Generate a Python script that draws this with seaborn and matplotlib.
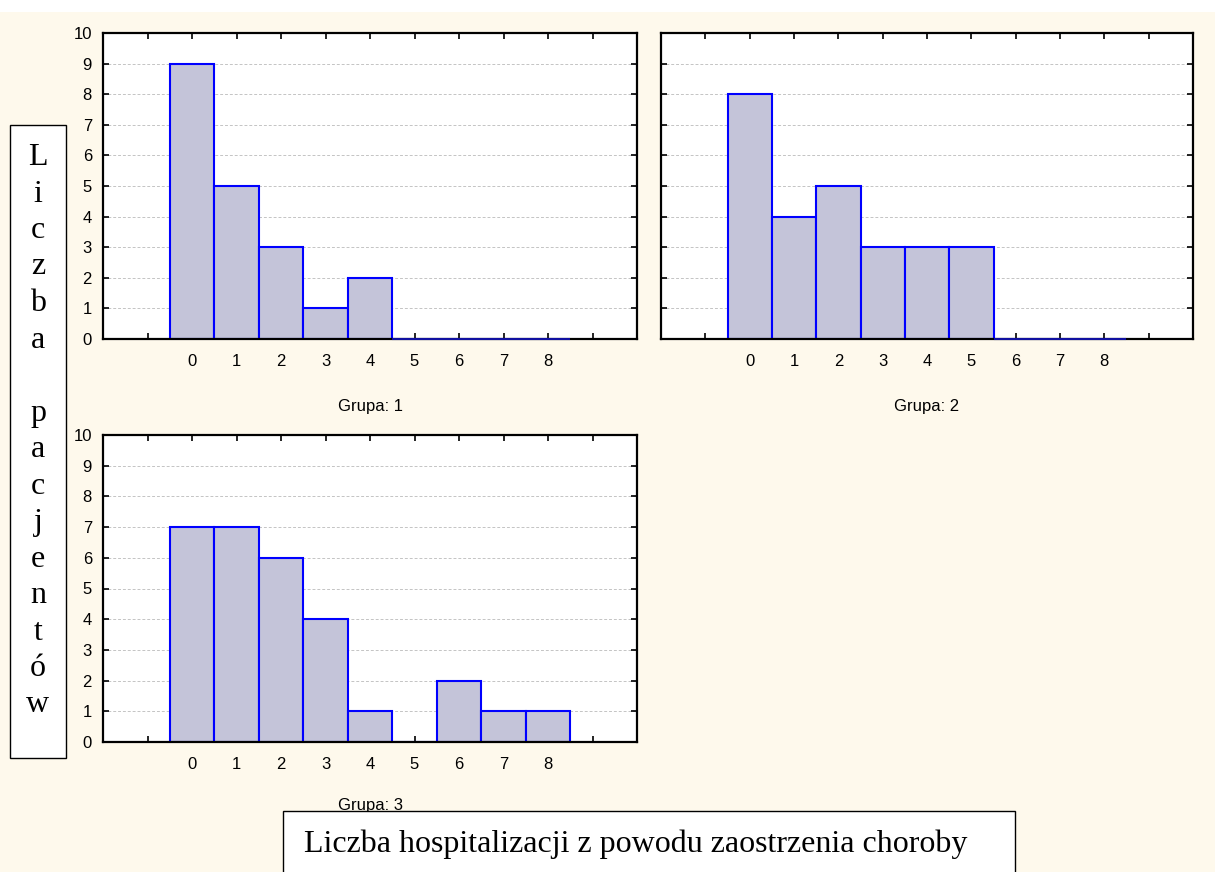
# Histogramy liczby hospitalizacji w trzech grupach (styl STATISTICA)
import matplotlib
matplotlib.use("Agg")
import matplotlib.pyplot as plt
from matplotlib.patches import Rectangle
import numpy as np
import pandas as pd
import seaborn as sns

# --- Dane --------------------------------------------------------------------
bins = [0, 1, 2, 3, 4, 5, 6, 7, 8]
grupa_1 = [9, 5, 3, 1, 2, 0, 0, 0, 0]
grupa_2 = [8, 4, 5, 3, 3, 3, 0, 0, 0]
grupa_3 = [7, 7, 6, 4, 1, 0, 2, 1, 1]
group_labels = ["Grupa: 1", "Grupa: 2", "Grupa: 3"]
y_label = "Liczba pacjentów"
x_label = "Liczba hospitalizacji z powodu zaostrzenia choroby"

# --- Wygląd ------------------------------------------------------------------
W, H = 1215, 872
BG = "#FEF9EC"
BAR_FACE = "#C4C4D9"
BAR_EDGE = "#0000FF"

sns.set_style("white")
plt.rcParams["font.family"] = ["Liberation Sans", "DejaVu Sans"]
plt.rcParams["text.color"] = "black"

fig = plt.figure(figsize=(W / 100, H / 100), dpi=100, facecolor=BG)


def px_axes(left, top, right, bottom):
    return fig.add_axes([left / W, 1 - bottom / H, (right - left) / W, (bottom - top) / H])


panels = [
    (px_axes(103, 33, 637, 339), grupa_1, group_labels[0], -0.222, True),
    (px_axes(661, 33, 1193, 339), grupa_2, group_labels[1], -0.222, False),
    (px_axes(103, 435, 637, 742), grupa_3, group_labels[2], -0.208, True),
]

for ax, counts, label, label_y, show_y in panels:
    df = pd.DataFrame({"bin": bins, "n": counts})
    ax.set_facecolor("white")
    ax.set_axisbelow(True)
    ax.yaxis.grid(True, color="#C4C4C4", linestyle=(0, (3, 2)), linewidth=0.7)
    ax.xaxis.grid(False)
    sns.barplot(data=df, x="bin", y="n", native_scale=True, width=1,
                color=BAR_FACE, saturation=1, edgecolor=BAR_EDGE,
                linewidth=1.5, ax=ax, zorder=2)
    # puste słupki na końcu skali widoczne jako ciemnoniebieska linia na osi
    last_nonzero = max(i for i, n in enumerate(counts) if n > 0)
    for i, patch in enumerate(ax.patches):
        if i > last_nonzero:
            patch.set_zorder(3)
            patch.set_clip_on(False)
            patch.set_edgecolor("#1010A0")
    ax.set_xlim(-2, 10)
    ax.set_ylim(0, 10)
    ax.set_xticks(np.arange(-1, 10))
    ax.set_xticklabels([str(b) if b in bins else "" for b in range(-1, 10)])
    ax.set_yticks(np.arange(0, 11))
    ax.tick_params(direction="in", length=4, width=1.2, color="black",
                   top=True, right=True, bottom=True, left=True,
                   labelsize=12, labelcolor="black")
    ax.tick_params(axis="x", pad=11)
    ax.tick_params(axis="y", pad=8, labelleft=show_y)
    ax.set_xlabel("")
    ax.set_ylabel("")
    for sp in ax.spines.values():
        sp.set_visible(True)
        sp.set_color("black")
        sp.set_linewidth(1.6)
    ax.text(0.5, label_y, label, transform=ax.transAxes, ha="center",
            va="center", fontsize=12, color="black")

# białe pasmo u góry (ucięty tytuł)
fig.patches.append(Rectangle((0, 1 - 12 / H), 1, 12 / H, transform=fig.transFigure,
                             facecolor="white", edgecolor="none", zorder=0))

# pionowa ramka z opisem osi Y
fig.patches.append(Rectangle((10 / W, 1 - 758 / H), 56 / W, 633 / H,
                             transform=fig.transFigure, facecolor="white",
                             edgecolor="black", linewidth=1.0, zorder=3))
for i, ch in enumerate(y_label):
    fig.text(38 / W, 1 - (165 + 36.5 * i) / H, ch, ha="center", va="baseline",
             family=["Liberation Serif", "DejaVu Serif"], fontsize=23,
             color="black", zorder=4)

# ramka z opisem osi X
fig.patches.append(Rectangle((283 / W, -10 / H), 732 / W, (872 - 811 + 10) / H,
                             transform=fig.transFigure, facecolor="white",
                             edgecolor="black", linewidth=1.0, zorder=3))
fig.text(304 / W, 1 - 852 / H, x_label, ha="left", va="baseline",
         family=["Liberation Serif", "DejaVu Serif"], fontsize=23,
         color="black", zorder=4)

fig.savefig("out.png", dpi=100, facecolor=BG)
